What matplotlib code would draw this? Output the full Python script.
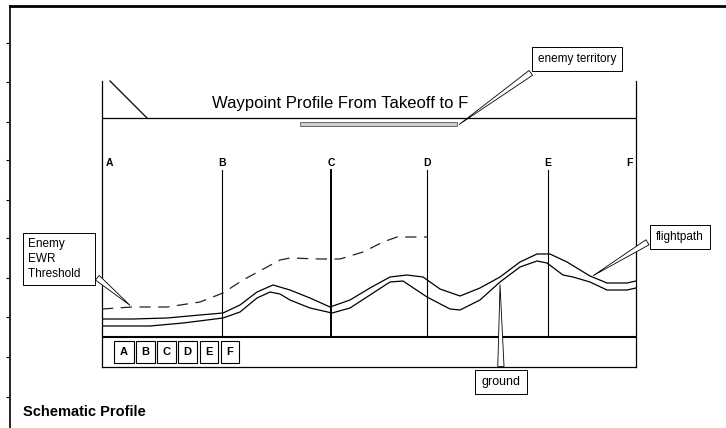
import matplotlib
matplotlib.use("Agg")
import matplotlib.pyplot as plt

plt.rcParams['font.family'] = ['Liberation Sans', 'DejaVu Sans']

# waypoints along the route (distance in nm)
waypoints = ['A', 'B', 'C', 'D', 'E', 'F']
waypoint_nm = [0, 12.0, 22.9, 32.5, 44.6, 53.4]

# enemy early-warning radar threshold (dashed)
ewr_nm = [0, 3.0, 6.5, 9.8, 12.1, 14.1, 17.8, 18.8, 21.8, 23.8, 26.1, 28.1, 29.5, 32.5]
ewr_ft = [280, 300, 300, 350, 440, 570, 770, 790, 780, 780, 850, 950, 1000, 1000]

# flight path (upper solid)
path_nm = [0, 3.1, 6.5, 9.8, 12.1, 13.8, 15.5, 17.1, 18.8, 20.8, 22.8, 24.8, 26.8, 28.8,
           30.5, 32.1, 33.8, 35.8, 37.8, 39.8, 41.8, 43.5, 44.8, 46.5, 48.8, 50.5, 52.5, 53.4]
path_ft = [180, 180, 190, 220, 240, 320, 450, 520, 470, 390, 300, 370, 490, 600,
           620, 600, 480, 410, 490, 600, 750, 830, 830, 750, 610, 540, 540, 560]

# ground (lower solid)
ground_nm = [0, 4.8, 8.1, 12.1, 13.8, 15.5, 16.8, 17.8, 18.8, 20.8, 23.0, 24.8, 26.8, 28.8,
             30.1, 32.5, 34.8, 35.8, 37.8, 39.8, 41.8, 43.5, 44.5, 46.1, 47.1, 48.8, 50.5, 52.5, 53.4]
ground_ft = [110, 110, 140, 190, 250, 390, 450, 430, 370, 290, 240, 290, 420, 550,
             560, 400, 280, 270, 370, 550, 700, 760, 740, 620, 600, 550, 470, 470, 490]

enemy_start_nm, enemy_end_nm = 19.8, 35.5

W, H = 726, 428
fig = plt.figure(figsize=(W / 100, H / 100), dpi=100)

# outer frame with ruler ticks on the left
fr = fig.add_axes([10 / W, 0, 716 / W, 422 / H])
fr.set_xlim(0, 1)
fr.set_ylim(H, 6)
fr.set_facecolor('none')
for s in ['right', 'bottom']:
    fr.spines[s].set_visible(False)
fr.spines['top'].set_linewidth(2)
fr.spines['left'].set_linewidth(1.2)
fr.set_xticks([])
fr.set_yticks([43, 82, 122, 160, 200, 238, 278, 317, 357, 397])
fr.set_yticklabels([])
fr.tick_params(axis='y', direction='out', length=3, width=0.8)

# profile panel
ax = fig.add_axes([102 / W, (H - 367) / H, 534 / W, 286 / H])
ax.set_xlim(0, 53.4)
ax.set_ylim(-300, 2560)
ax.set_facecolor('none')
ax.spines['top'].set_visible(False)
for s in ['left', 'right', 'bottom']:
    ax.spines[s].set_linewidth(0.9)
ax.set_xticks([])
ax.set_yticks([])

ax.axhline(2190, color='black', lw=0.9)
ax.axhline(0, color='black', lw=1.5)
ax.plot([0.8, 4.5], [2560, 2190], color='black', lw=0.9, clip_on=False)

ax.text(0.446, 0.923, 'Waypoint Profile From Takeoff to F', transform=ax.transAxes,
        ha='center', va='center', fontsize=12)
ax.barh(2130, enemy_end_nm - enemy_start_nm, left=enemy_start_nm, height=40,
        color='#cfcfcf', edgecolor='#555555', lw=0.6)

for i, (name, x) in enumerate(zip(waypoints, waypoint_nm)):
    if 0 < i < len(waypoints) - 1:
        ax.plot([x, x], [0, 1670], color='black', lw=1.4 if name == 'C' else 0.8)
        ha, dx = 'center', 0
    elif i == 0:
        ha, dx = 'left', 0.35
    else:
        ha, dx = 'right', -0.35
    ax.text(x + dx, 1740, name, ha=ha, va='center', fontsize=7.5, fontweight='bold')

l, = ax.plot(ewr_nm, ewr_ft, color='#222222', lw=0.9)
l.set_dashes((9, 6))
ax.plot(path_nm, path_ft, color='black', lw=0.9)
ax.plot(ground_nm, ground_ft, color='black', lw=0.9)

# waypoint key boxes
for i, name in enumerate(waypoints):
    ax.text(2.2 + 2.12 * i, -150, name, ha='center', va='center', fontsize=8,
            fontweight='bold',
            bbox=dict(boxstyle='square,pad=0.5', fc='white', ec='black', lw=0.8))

wedge = dict(arrowstyle='wedge,tail_width=0.5,shrink_factor=0.5', fc='white',
             ec='black', lw=0.6)
box = dict(boxstyle='square,pad=0.5', fc='white', ec='black', lw=0.7)

ax.annotate('enemy territory', xy=(enemy_end_nm, 2110), xytext=(577, H - 59),
            textcoords='figure pixels', ha='center', va='center', fontsize=8.5,
            bbox=box, arrowprops=dict(wedge, relpos=(0.05, 0.0)))
ax.annotate('Enemy\nEWR\nThreshold   ', xy=(ewr_nm[1], ewr_ft[1]), xytext=(28, H - 259),
            textcoords='figure pixels', ha='left', va='center', fontsize=8.5,
            linespacing=1.35,
            bbox=dict(boxstyle='square,pad=0.4', fc='white', ec='black', lw=0.7),
            arrowprops=dict(wedge, relpos=(1.0, 0.2)))
ax.annotate('flightpath', xy=(48.9, 600), xytext=(680, H - 237),
            textcoords='figure pixels', ha='center', va='center', fontsize=8.5,
            bbox=box, arrowprops=dict(wedge, relpos=(0.0, 0.5)))
ax.annotate('ground', xy=(39.8, 550), xytext=(501, H - 382),
            textcoords='figure pixels', ha='center', va='center', fontsize=9,
            bbox=box, arrowprops=dict(wedge, relpos=(0.5, 1.0)))

fig.text(23 / W, 1 - 412 / H, 'Schematic Profile', ha='left', va='center',
         fontsize=10.5, fontweight='bold')

fig.savefig('out.png', dpi=100)
